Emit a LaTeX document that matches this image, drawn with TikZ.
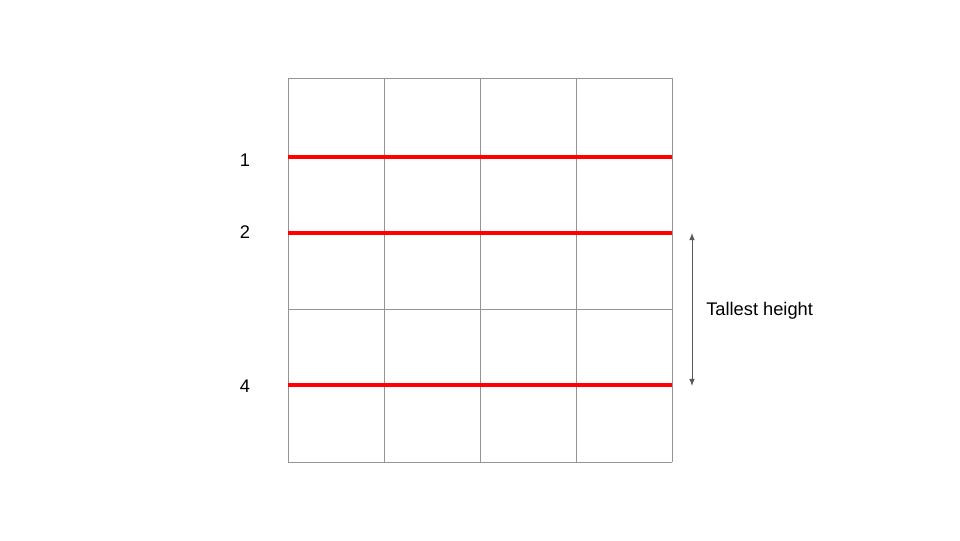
\documentclass[tikz,border=0pt]{standalone}
\usepackage{fontspec}
\setmainfont{Liberation Sans}
\usetikzlibrary{arrows.meta}
\tikzset{
  gridline/.style={draw=black!42, line width=0.7pt},
  cutline/.style={draw=red, line width=2.3pt},
  rowlabel/.style={font=\fontsize{13}{15}\selectfont, inner sep=0pt},
  measure/.style={draw=black!65, line width=0.7pt, {Latex[length=5pt,width=4pt]}-{Latex[length=5pt,width=4pt]}}
}
\begin{document}
\begin{tikzpicture}[x=0.025cm, y=-0.025cm]
  \useasboundingbox (0,0) rectangle (960,540);
  % grid
  \foreach \x in {288,384,480,576,672}
    \draw[gridline] (\x,78) -- (\x,462);
  \foreach \y in {78,157,233,309,385,462}
    \draw[gridline] (288,\y) -- (672,\y);
  % red lines
  \foreach \y/\n in {157/1,233/2,385/4} {
    \coordinate (L\n) at (288,\y); \coordinate (R\n) at (672,\y);
    \draw[cutline] (L\n) -- (R\n);
  }
  \node[rowlabel] (n1) at (245,160) {1};
  \node[rowlabel] (n2) at (245,232) {2};
  \node[rowlabel] (n4) at (245,386) {4};
  % height
  \coordinate (top) at (692,233); \coordinate (bot) at (692,386);
  \draw[measure] (top) -- (bot);
  \node[rowlabel, anchor=west] (tall) at (706,311) {Tallest height};
\end{tikzpicture}
\end{document}
